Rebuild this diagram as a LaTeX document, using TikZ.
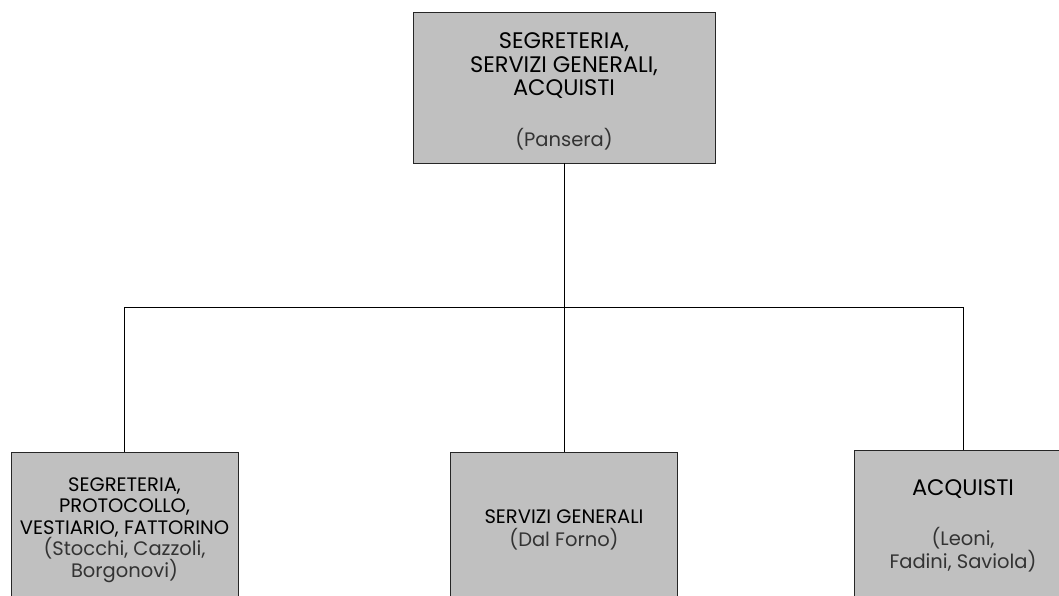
\documentclass[tikz,border=0pt]{standalone}
\usepackage{fontspec}
\setmainfont{Poppins}
\usetikzlibrary{positioning}
\definecolor{boxgray}{HTML}{C0C0C0}
\definecolor{namegray}{HTML}{333333}
\newcommand\who[2][19.5]{{\color{namegray}\fontsize{#1}{#1}\selectfont #2}}
\newcommand\fixlead[2]{\fontsize{#1}{#2}\selectfont\lineskiplimit -50pt\relax}

\begin{document}
\begin{tikzpicture}[x=1pt,y=-1pt]
\tikzset{office/.style={draw=black!85, fill=boxgray, line width=0.8pt, align=center, inner sep=0pt},
    bigtext/.style={font={\fixlead{22.5}{23.5}}},
    smalltext/.style={font={\fixlead{19.5}{21.5}}},
    link/.style={draw=black, line width=0.9pt}}
\clip (0,0) rectangle (1059,595);
\useasboundingbox (0,0) rectangle (1059,595);

\node[office, bigtext, minimum width=302pt, minimum height=151pt] (capo) at (564,87.5)
    {\rule{0pt}{24pt}SEGRETERIA,\\SERVIZI GENERALI,\\ACQUISTI\\[27pt]\who{(Pansera)}};
\node[office, smalltext, minimum width=227pt, minimum height=156pt] (segr) at (124.5,530)
    {SEGRETERIA,\\PROTOCOLLO,\\VESTIARIO, FATTORINO\\\who{(Stocchi, Cazzoli,}\\\who{Borgonovi)}};
\node[office, font={\fixlead{19.5}{23}}, minimum width=227pt, minimum height=156pt] (serv) at (564,530)
    {SERVIZI GENERALI\\\who{(Dal Forno)}};
\node[office, font={\fixlead{22.5}{23}}, minimum width=218pt, minimum height=152pt] (acq) at (963,526)
    {ACQUISTI\\[27.5pt]\who{(Leoni,}\\\who{Fadini, Saviola)}};

\coordinate (bus) at (564,307);
\draw[link] (capo) -- (bus);
\draw[link] (bus) -| (segr);
\draw[link] (bus) -- (serv);
\draw[link] (bus) -| (acq);
\end{tikzpicture}
\end{document}
